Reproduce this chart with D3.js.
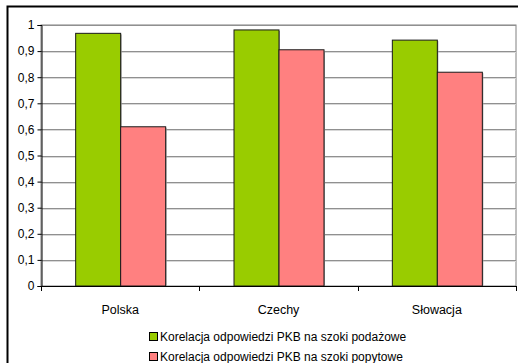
<!DOCTYPE html>
<html><head><meta charset="utf-8">
<script src="https://cdn.jsdelivr.net/npm/d3@7"></script>
<style>body{margin:0;background:#fff;}svg{display:block;font-family:"Liberation Sans",Arial,sans-serif;}</style>
</head><body>
<script>
const categories = ["Polska", "Czechy", "Słowacja"];
const seriesNames = ["Korelacja odpowiedzi PKB na szoki podażowe", "Korelacja odpowiedzi PKB na szoki popytowe"];
const supplyValues = [0.970, 0.983, 0.944];
const demandValues = [0.612, 0.907, 0.821];
const yTicks = [0, 0.1, 0.2, 0.3, 0.4, 0.5, 0.6, 0.7, 0.8, 0.9, 1];
const colors = ["#99CC00", "#FF8080"];

(function () {
const W = 518, H = 363;
const svg = d3.select("body").append("svg").attr("width", W).attr("height", H);

// outer frame
svg.append("rect").attr("x", 7.5).attr("y", 6.5).attr("width", 600).attr("height", 400)
  .attr("fill", "#fff").attr("stroke", "#000").attr("stroke-width", 2);

const pL = 41, pR = 516, pT = 25, pB = 286;
const x = d3.scaleBand().domain(categories).range([pL, pR]).paddingInner(0).paddingOuter(0);
const y = d3.scaleLinear().domain([0, 1]).range([pB, pT]);
const groupW = 90;
const x1 = d3.scaleBand().domain([0, 1]).range([0, groupW]);

// plot area border
svg.append("rect").attr("x", pL).attr("y", pT).attr("width", pR - pL).attr("height", pB - pT)
  .attr("fill", "#fff").attr("stroke", "#808080").attr("stroke-width", 1);

// gridlines
svg.append("g").selectAll("line").data(yTicks.filter(d => d > 0)).join("line")
  .attr("x1", pL).attr("x2", pR)
  .attr("y1", d => Math.round(y(d)) + 0.5).attr("y2", d => Math.round(y(d)) + 0.5)
  .attr("stroke", "#909090").attr("stroke-width", 1);
svg.append("g").selectAll("line").data(yTicks.filter(d => d > 0 && d < 1)).join("line")
  .attr("x1", pL).attr("x2", pR)
  .attr("y1", d => Math.round(y(d)) + 1.5).attr("y2", d => Math.round(y(d)) + 1.5)
  .attr("stroke", "#d8d8d8").attr("stroke-width", 1);

// bars
const data = categories.map((c, i) => ({c, v: [supplyValues[i], demandValues[i]]}));
const g = svg.append("g");
data.forEach(d => {
  const gx = x(d.c) + (x.bandwidth() - groupW) / 2;
  d.v.forEach((v, k) => {
    const bx = gx + x1(k), by = y(v), bw = x1.bandwidth(), bh = y(0) - y(v);
    g.append("rect").attr("x", bx + 1.5).attr("y", by + 1.5).attr("width", bw).attr("height", bh - 1.5)
      .attr("fill", "#a0a0a0");
    g.append("rect").attr("x", bx + 0.5).attr("y", by + 0.5).attr("width", bw).attr("height", bh - 0.5)
      .attr("fill", colors[k]).attr("stroke", "#1a1a1a").attr("stroke-width", 1);
  });
});

// y axis
const yAxis = d3.axisLeft(y).tickValues(yTicks).tickSize(4).tickPadding(3)
  .tickFormat(d => d === 0 ? "0" : d === 1 ? "1" : d3.format(".1f")(d).replace(".", ","));
const ya = svg.append("g").attr("transform", `translate(${pL + 0.5},0)`).call(yAxis);
ya.select(".domain").attr("stroke", "#000");
ya.selectAll(".tick line").attr("stroke", "#000");
ya.selectAll("text").attr("font-size", 12).attr("fill", "#000")
  .attr("font-family", "'Liberation Sans', Arial, sans-serif");

// x axis
const xAxis = d3.axisBottom(x).tickSize(0).tickPadding(19);
const xa = svg.append("g").attr("transform", `translate(0,${pB + 0.5})`).call(xAxis);
xa.select(".domain").attr("stroke", "#000").attr("d", `M${pL},0H${pR}`);
xa.selectAll("text").attr("font-size", 12.5).attr("fill", "#000")
  .attr("font-family", "'Liberation Sans', Arial, sans-serif");
const seps = categories.map(c => x(c)).concat([pR]);
svg.append("g").selectAll("line").data(seps).join("line")
  .attr("x1", d => Math.round(d) + 0.5).attr("x2", d => Math.round(d) + 0.5)
  .attr("y1", pB).attr("y2", pB + 5).attr("stroke", "#000");

// legend
const lg = svg.append("g");
seriesNames.forEach((n, i) => {
  const ly = 337 + i * 20;
  lg.append("rect").attr("x", 149.5).attr("y", ly - 4.5).attr("width", 8).attr("height", 8)
    .attr("fill", colors[i]).attr("stroke", "#000").attr("stroke-width", 1);
  lg.append("text").attr("x", 160).attr("y", ly + 4).attr("font-size", 12).attr("fill", "#000").text(n);
});
})();
</script>
</body></html>
